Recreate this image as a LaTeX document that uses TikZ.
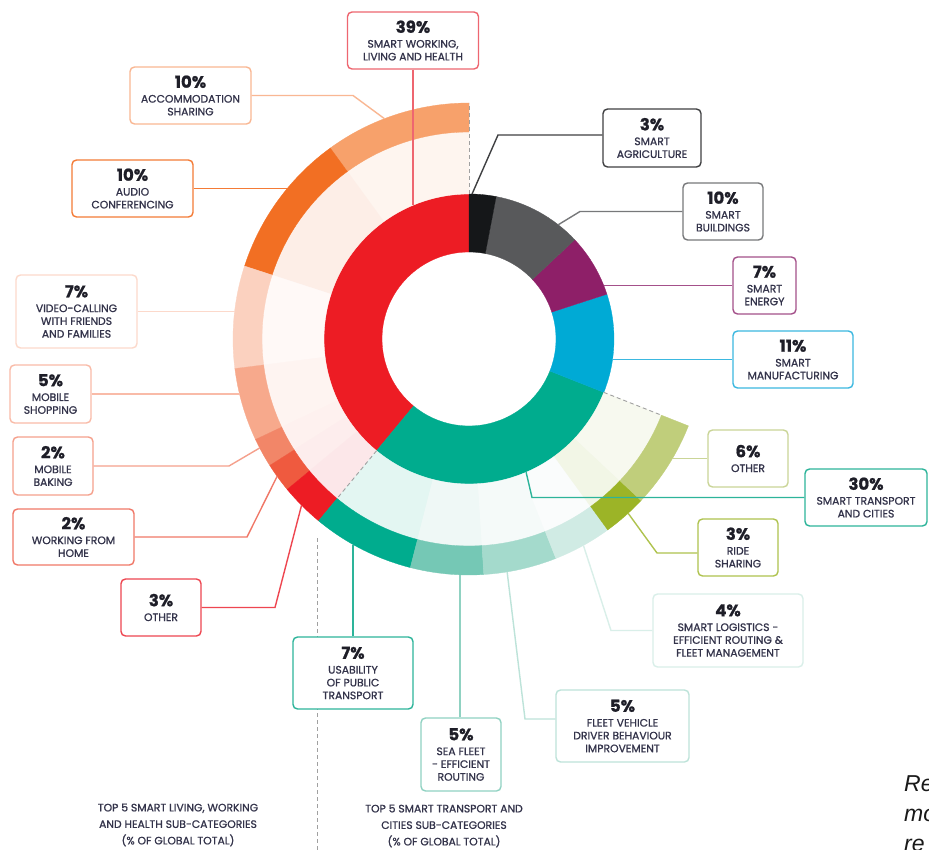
\documentclass[tikz,border=0pt]{standalone}
\usepackage{fontspec}
\setmainfont{Poppins}
\setsansfont{Liberation Sans}
\newfontfamily\labfam{Poppins}[FakeBold=1]
\usetikzlibrary{calc}
% inner ring
\definecolor{cred}{HTML}{ED1C24}
\definecolor{cteal}{HTML}{00AC8E}
\definecolor{cblue}{HTML}{00AAD5}
\definecolor{cpurple}{HTML}{8E1F68}
\definecolor{cgray}{HTML}{58595B}
\definecolor{cblack}{HTML}{151719}
% outer ring, living sector
\definecolor{oacc}{HTML}{F7A16B}
\definecolor{oaud}{HTML}{F26F23}
\definecolor{ovid}{HTML}{FBD1BF}
\definecolor{oshop}{HTML}{F7A98C}
\definecolor{obank}{HTML}{F28668}
\definecolor{owfh}{HTML}{EF5A3F}
\definecolor{ooth}{HTML}{ED1C24}
\definecolor{pacc}{HTML}{FEF5EF}
\definecolor{paud}{HTML}{FDEEE7}
\definecolor{pvid}{HTML}{FFF9F7}
\definecolor{pshop}{HTML}{FEF4F1}
\definecolor{pbank}{HTML}{FEF1EF}
\definecolor{pwfh}{HTML}{FDEDED}
\definecolor{poth}{HTML}{FCE7E9}
% outer ring, transport sector
\definecolor{ouse}{HTML}{00AC8E}
\definecolor{osea}{HTML}{75C8B5}
\definecolor{ofleet}{HTML}{A4DACC}
\definecolor{ologi}{HTML}{D0EBE4}
\definecolor{oride}{HTML}{9CB427}
\definecolor{ooth2}{HTML}{C0CE7B}
\definecolor{puse}{HTML}{E3F6F2}
\definecolor{psea}{HTML}{EFF8F6}
\definecolor{pfleet}{HTML}{F5FAF9}
\definecolor{plogi}{HTML}{FAFCFC}
\definecolor{pride}{HTML}{F2F6E6}
\definecolor{poth2}{HTML}{F7F9EF}
% box / connector colours
\definecolor{bc1}{HTML}{EE6670}
\definecolor{bc2}{HTML}{F9B793}
\definecolor{bc3}{HTML}{F47B36}
\definecolor{bc4}{HTML}{FCD9CB}
\definecolor{bc5}{HTML}{F9BBA8}
\definecolor{bc6}{HTML}{F5A08C}
\definecolor{bc7}{HTML}{F07868}
\definecolor{bc8}{HTML}{EE4650}
\definecolor{bc9}{HTML}{3F4042}
\definecolor{bc10}{HTML}{77787A}
\definecolor{bc11}{HTML}{A4508A}
\definecolor{bc12}{HTML}{3BB8E0}
\definecolor{bc13}{HTML}{CAD597}
\definecolor{bc14}{HTML}{2DB49A}
\definecolor{bc15}{HTML}{AFC34E}
\definecolor{bc16}{HTML}{D9EFE9}
\definecolor{bc17}{HTML}{BDE3D9}
\definecolor{bc18}{HTML}{90D2C2}
\definecolor{bc19}{HTML}{2DB49A}
\definecolor{pctc}{HTML}{1E1E28}
\definecolor{labc}{HTML}{33334A}
\definecolor{dashc}{HTML}{A0A0A0}
\newcommand\pcf{\fontsize{16.5}{16.5}\selectfont\bfseries\color{pctc}}
\newcommand\labf{\labfam\fontsize{10.8}{12.8}\selectfont\color{labc}}
\newcommand\seg[5]{\fill[#1,draw=#1,line width=0.3pt] ($(c)+(#2:#4)$) arc[start angle=#2,end angle=#3,radius=#4] -- ($(c)+(#3:#5)$) arc[start angle=#3,end angle=#2,radius=#5] -- cycle;}
\tikzset{
  box/.style={draw=#1, line width=1.4pt, rounded corners=4.5pt, fill=white, align=center, inner sep=0pt, font=\labf},
  conn/.style={draw=#1, line width=1.4pt},
  dashln/.style={draw=dashc, line width=0.9pt, dash pattern=on 4pt off 3pt},
  btxt/.style={align=center, inner sep=0pt, font=\labfam\fontsize{10.8}{16.5}\selectfont\color{labc}},
  itxt/.style={anchor=base west, inner sep=0pt, font=\fontsize{23}{30}\selectfont\sffamily\itshape\color{black!90}}
}
\begin{document}
\begin{tikzpicture}[x=1pt,y=1pt]
\useasboundingbox (0,0) rectangle (929,-850);
\fill[white] (0,0) rectangle (929,-850);
\coordinate (c) at (469,-339);
% inner ring
\seg{cred}{90}{230.4}{87}{145}
\seg{cteal}{230.4}{338.4}{87}{145}
\seg{cblue}{-21.6}{18}{87}{145}
\seg{cpurple}{18}{43.2}{87}{145}
\seg{cgray}{43.2}{79.2}{87}{145}
\seg{cblack}{79.2}{90}{87}{145}
% pale ring, living sector
\seg{pacc}{90}{126}{145}{207}
\seg{paud}{126}{162}{145}{207}
\seg{pvid}{162}{187.2}{145}{207}
\seg{pshop}{187.2}{205.2}{145}{207}
\seg{pbank}{205.2}{212.4}{145}{207}
\seg{pwfh}{212.4}{219.6}{145}{207}
\seg{poth}{219.6}{230.4}{145}{207}
% outer ring, living sector
\seg{oacc}{90}{126}{207}{236}
\seg{oaud}{126}{162}{207}{236}
\seg{ovid}{162}{187.2}{207}{236}
\seg{oshop}{187.2}{205.2}{207}{236}
\seg{obank}{205.2}{212.4}{207}{236}
\seg{owfh}{212.4}{219.6}{207}{236}
\seg{ooth}{219.6}{230.4}{207}{236}
% pale ring, transport sector
\seg{puse}{230.4}{255.6}{145}{207}
\seg{psea}{255.6}{273.6}{145}{207}
\seg{pfleet}{273.6}{291.6}{145}{207}
\seg{plogi}{291.6}{306}{145}{207}
\seg{pride}{306}{316.8}{145}{207}
\seg{poth2}{316.8}{338.4}{145}{207}
% outer ring, transport sector
\seg{ouse}{230.4}{255.6}{207}{236}
\seg{osea}{255.6}{273.6}{207}{236}
\seg{ofleet}{273.6}{291.6}{207}{236}
\seg{ologi}{291.6}{306}{207}{236}
\seg{oride}{306}{316.8}{207}{236}
\seg{ooth2}{316.8}{338.4}{207}{236}
% dashed lines
\coordinate (d1a) at ($(c)+(90:145)$);
\coordinate (d1b) at ($(c)+(90:236)$);
\coordinate (d2a) at ($(c)+(230.4:145)$);
\coordinate (d2b) at ($(c)+(230.4:207)$);
\coordinate (d3a) at ($(c)+(338.4:145)$);
\coordinate (d3b) at ($(c)+(338.4:207)$);
\coordinate (s1) at (317,-538);
\coordinate (s2) at (317,-850);
\draw[dashln] (d1a) -- (d1b);
\draw[dashln] (d2a) -- (d2b);
\draw[dashln] (d3a) -- (d3b);
\draw[dashln] (s1) -- (s2);
% boxes
\node[box=bc1, minimum width=131pt, minimum height=57pt] (b1) at (413,-40.5) {{\pcf 39\%}\\[2pt]SMART WORKING,\\LIVING AND HEALTH};
\node[box=bc2, minimum width=121pt, minimum height=57pt] (b2) at (190.5,-95.5) {{\pcf 10\%}\\[2pt]ACCOMMODATION\\SHARING};
\node[box=bc3, minimum width=121pt, minimum height=57pt] (b3) at (132.5,-188.5) {{\pcf 10\%}\\[2pt]AUDIO\\CONFERENCING};
\node[box=bc4, minimum width=121pt, minimum height=73pt] (b4) at (76.5,-311.5) {{\pcf 7\%}\\[2pt]VIDEO-CALLING\\WITH FRIENDS\\AND FAMILIES};
\node[box=bc5, minimum width=81pt, minimum height=58pt] (b5) at (50.5,-394) {{\pcf 5\%}\\[2pt]MOBILE\\SHOPPING};
\node[box=bc6, minimum width=80pt, minimum height=58pt] (b6) at (53,-466) {{\pcf 2\%}\\[2pt]MOBILE\\BAKING};
\node[box=bc7, minimum width=121pt, minimum height=56pt] (b7) at (73.5,-537) {{\pcf 2\%}\\[2pt]WORKING FROM\\HOME};
\node[box=bc8, minimum width=80pt, minimum height=57pt] (b8) at (161,-607.5) {{\pcf 3\%}\\[2pt]OTHER};
\node[box=bc9, minimum width=98pt, minimum height=58pt] (b9) at (652,-138) {{\pcf 3\%}\\[2pt]SMART\\AGRICULTURE};
\node[box=bc10, minimum width=80pt, minimum height=57pt] (b10) at (723,-211.5) {{\pcf 10\%}\\[2pt]SMART\\BUILDINGS};
\node[box=bc11, minimum width=63pt, minimum height=57pt] (b11) at (764.5,-285.5) {{\pcf 7\%}\\[2pt]SMART\\ENERGY};
\node[box=bc12, minimum width=120pt, minimum height=57pt] (b12) at (793,-359.5) {{\pcf 11\%}\\[2pt]SMART\\MANUFACTURING};
\node[box=bc13, minimum width=80pt, minimum height=57pt] (b13) at (748,-458.5) {{\pcf 6\%}\\[2pt]OTHER};
\node[box=bc14, minimum width=122pt, minimum height=57pt] (b14) at (866,-497.5) {{\pcf 30\%}\\[2pt]SMART TRANSPORT\\AND CITIES};
\node[box=bc15, minimum width=80pt, minimum height=57pt] (b15) at (738,-547.5) {{\pcf 3\%}\\[2pt]RIDE\\SHARING};
\node[box=bc16, minimum width=150pt, minimum height=73pt] (b16) at (728,-630.5) {{\pcf 4\%}\\[2pt]SMART LOGISTICS -\\EFFICIENT ROUTING \&\\FLEET MANAGEMENT};
\node[box=bc17, minimum width=133pt, minimum height=72pt] (b17) at (622.5,-726) {{\pcf 5\%}\\[2pt]FLEET VEHICLE\\DRIVER BEHAVIOUR\\IMPROVEMENT};
\node[box=bc18, minimum width=80pt, minimum height=73pt] (b18) at (461,-754.5) {{\pcf 5\%}\\[2pt]SEA FLEET\\- EFFICIENT\\ROUTING};
\node[box=bc19, minimum width=120pt, minimum height=72pt] (b19) at (353,-673) {{\pcf 7\%}\\[2pt]USABILITY\\OF PUBLIC\\TRANSPORT};
% connector end points and bends
\coordinate (e1) at (413,-205.3);
\coordinate (e2) at ($(c)+(111:236)$);
\coordinate (k2) at (353,-95.5);
\coordinate (e3) at (287.2,-188.5);
\coordinate (e4) at (234.6,-311.5);
\coordinate (e5) at (239.5,-394);
\coordinate (e6) at ($(c)+(207.5:236)$);
\coordinate (k6) at (229,-466);
\coordinate (e7) at ($(c)+(215.6:236)$);
\coordinate (k7) at (247,-537);
\coordinate (e8) at ($(c)+(224.8:236)$);
\coordinate (k8) at (275,-607.5);
\coordinate (e9) at ($(c)+(88.8:145)$);
\coordinate (k9) at (498,-135);
\coordinate (e10) at ($(c)+(52:145)$);
\coordinate (k10) at (580,-211.5);
\coordinate (e11) at (603.8,-285.5);
\coordinate (e12) at (612.5,-359.5);
\coordinate (e13) at (672.5,-458.5);
\coordinate (e14) at ($(c)+(293.2:145)$);
\coordinate (k14) at (532,-497.5);
\coordinate (e15) at ($(c)+(312.4:236)$);
\coordinate (k15) at (657,-553);
\coordinate (e16) at ($(c)+(299:236)$);
\coordinate (k16) at (611,-630.5);
\coordinate (e17) at ($(c)+(279.3:236)$);
\coordinate (k17) at (525,-719);
\coordinate (e18) at (460,-574.8);
\coordinate (e19) at (353,-544.5);
% connectors
\draw[conn=bc1] (b1.south) -- (e1);
\draw[conn=bc2] (b2.east) -- (k2) -- (e2);
\draw[conn=bc3] (b3.east) -- (e3);
\draw[conn=bc4] (b4.east) -- (e4);
\draw[conn=bc5] (b5.east) -- (e5);
\draw[conn=bc6] (b6.east) -- (k6) -- (e6);
\draw[conn=bc7] (b7.east) -- (k7) -- (e7);
\draw[conn=bc8] (b8.east) -- (k8) -- (e8);
\draw[conn=bc9] (b9.west |- k9) -- (k9) -- (e9);
\draw[conn=bc10] (b10.west) -- (k10) -- (e10);
\draw[conn=bc11] (b11.west) -- (e11);
\draw[conn=bc12] (b12.west) -- (e12);
\draw[conn=bc13] (b13.west) -- (e13);
\draw[conn=bc14] (b14.west) -- (k14) -- (e14);
\draw[conn=bc15] (b15.west |- k15) -- (k15) -- (e15);
\draw[conn=bc16] (b16.west) -- (k16) -- (e16);
\draw[conn=bc17] (b17.west |- k17) -- (k17) -- (e17);
\draw[conn=bc18] (e18 |- b18.north) -- (e18);
\draw[conn=bc19] (b19.north) -- (e19);
% bottom texts
\node[btxt] (t1) at (178,-825) {TOP 5 SMART LIVING, WORKING\\AND HEALTH SUB-CATEGORIES\\(\% OF GLOBAL TOTAL)};
\node[btxt] (t2) at (444,-826) {TOP 5 SMART TRANSPORT AND\\CITIES SUB-CATEGORIES\\(\% OF GLOBAL TOTAL)};
\node[itxt] (r1) at (904,-791.5) {Re};
\node[itxt] (r2) at (904,-821.5) {mo};
\node[itxt] (r3) at (904,-851.5) {re};
\end{tikzpicture}
\end{document}
